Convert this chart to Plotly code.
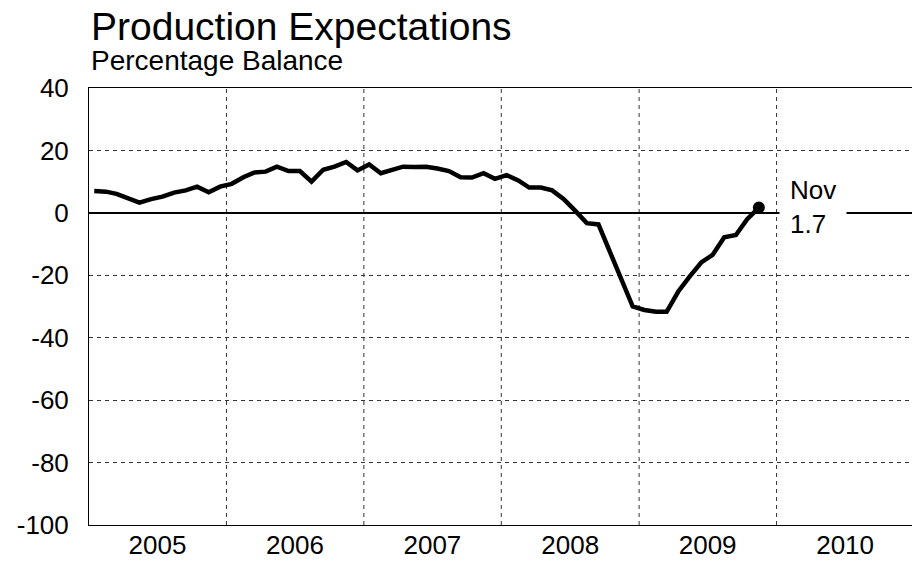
import pandas as pd
import plotly.graph_objects as go

# monthly percentage balance, Jan 2005 .. Nov 2009
months = pd.date_range("2005-01-01", periods=59, freq="MS") + pd.Timedelta(days=14)
balance = [
    7.0, 6.8, 6.1, 4.7, 3.3, 4.4, 5.2, 6.5, 7.2, 8.4, 6.6, 8.4,
    9.3, 11.4, 12.9, 13.2, 14.8, 13.4, 13.4, 10.0, 13.8, 14.8, 16.3, 13.6,
    15.5, 12.7, 13.8, 14.8, 14.7, 14.8, 14.2, 13.4, 11.4, 11.3, 12.7, 10.9,
    12.1, 10.4, 8.1, 8.1, 7.2, 4.4, 0.7, -3.3, -3.7, -12.4, -20.9, -30.0,
    -31.1, -31.7, -31.7, -25.2, -20.4, -15.9, -13.5, -7.8, -7.1, -2.0, 1.7,
]
last_label = "Nov"
year_ticks = ["2005", "2006", "2007", "2008", "2009", "2010"]
y_ticks = [40, 20, 0, -20, -40, -60, -80, -100]

FONT = "Liberation Sans, Arial, sans-serif"

fig = go.Figure()
fig.add_trace(go.Scatter(x=months, y=balance, mode="lines",
                         line=dict(color="black", width=4.5), hoverinfo="skip"))
fig.add_trace(go.Scatter(x=[months[-1]], y=[balance[-1]], mode="markers",
                         marker=dict(color="black", size=12), hoverinfo="skip"))

fig.add_annotation(x="2010-01-01", y=0, xref="x", yref="y", xanchor="left", yanchor="middle",
                   text=f"{last_label}<br>{balance[-1]:.1f}", align="left", showarrow=False,
                   bgcolor="white", borderpad=10, xshift=2, yshift=6,
                   font=dict(size=26, color="black", family=FONT))

fig.add_annotation(x=0, y=1, xref="paper", yref="paper", xanchor="left", yanchor="bottom",
                   text="Production Expectations", showarrow=False, xshift=0, yshift=38,
                   font=dict(size=39, color="black", family=FONT))
fig.add_annotation(x=0, y=1, xref="paper", yref="paper", xanchor="left", yanchor="bottom",
                   text="Percentage Balance", showarrow=False, xshift=0, yshift=10,
                   font=dict(size=28, color="black", family=FONT))

fig.update_xaxes(
    range=["2005-01-01", "2011-01-01"], type="date", automargin=False,
    tickvals=[f"{y}-07-02" for y in year_ticks], ticktext=year_ticks,
    showgrid=False, ticks="", ticklabelstandoff=-3,
    showline=True, mirror=True, linecolor="black", linewidth=1,
    tickfont=dict(size=26, color="black", family=FONT), zeroline=False,
)
for y in year_ticks[1:]:
    fig.add_shape(type="line", xref="x", yref="paper", x0=f"{y}-01-01", x1=f"{y}-01-01",
                  y0=0, y1=1, line=dict(color="#333333", width=1, dash="4px,4px"), layer="below")
fig.update_yaxes(
    range=[-100, 40], tickvals=y_ticks, ticktext=[str(v) for v in y_ticks], automargin=False,
    showgrid=True, gridcolor="#333333", gridwidth=1,
    griddash="4px,4px", zeroline=True, zerolinecolor="black", zerolinewidth=2,
    ticks="", ticklabelstandoff=14, showline=True, mirror=True, linecolor="black", linewidth=1,
    tickfont=dict(size=26, color="black", family=FONT),
)
fig.update_layout(
    width=912, height=553, showlegend=False,
    plot_bgcolor="white", paper_bgcolor="white",
    margin=dict(l=81, r=6, t=80, b=36),
)
fig.write_html("out.html")
